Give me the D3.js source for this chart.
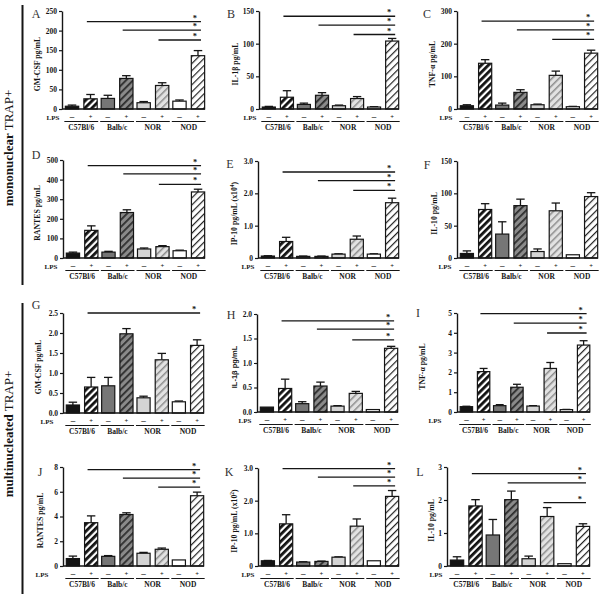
<!DOCTYPE html>
<html><head><meta charset="utf-8">
<script src="https://cdn.jsdelivr.net/npm/d3@7"></script>
<style>body{margin:0;background:#fff}</style>
</head><body><svg id="c" width="600" height="596"></svg>
<script>
// ---------- DATA ----------
const groups = ["C57Bl/6", "Balb/c", "NOR", "NOD"];
const lpsLevels = ["-", "+"];
// order of values: C57-, C57+, Balb-, Balb+, NOR-, NOR+, NOD-, NOD+
const gmcsfMono    = [7, 26, 27, 78, 16, 60, 20, 136];
const gmcsfMonoErr = [3, 11, 8, 7, 3, 7, 3, 13];
const il1bMono     = [3, 18, 7, 21, 5, 16, 3, 104];
const il1bMonoErr  = [1, 10, 2, 4, 1, 3, 0.5, 4];
const tnfMono      = [10, 140, 12, 51, 13, 103, 7, 171];
const tnfMonoErr   = [3, 11, 6, 8, 2, 13, 1, 9];
const rantesMono   = [25, 141, 30, 232, 46, 58, 37, 337];
const rantesMonoErr= [5, 23, 4, 14, 5, 5, 3, 14];
const ip10Mono     = [0.06, 0.51, 0.05, 0.05, 0.12, 0.58, 0.12, 1.71];
const ip10MonoErr  = [0.01, 0.13, 0.01, 0.01, 0.01, 0.10, 0.01, 0.14];
const il10Mono     = [7, 75, 37, 81, 10, 73, 5, 95];
const il10MonoErr  = [4, 9, 19, 10, 4, 12, 0, 6];

const gmcsfMulti    = [0.20, 0.65, 0.68, 1.98, 0.38, 1.33, 0.28, 1.69];
const gmcsfMultiErr = [0.07, 0.24, 0.21, 0.13, 0.04, 0.16, 0.02, 0.14];
const il1bMulti     = [0.10, 0.48, 0.17, 0.53, 0.12, 0.38, 0.05, 1.30];
const il1bMultiErr  = [0, 0.19, 0.04, 0.08, 0.01, 0.04, 0, 0.04];
const tnfMulti      = [0.27, 2.04, 0.32, 1.25, 0.30, 2.20, 0.12, 3.38];
const tnfMultiErr   = [0.02, 0.16, 0.05, 0.15, 0.02, 0.30, 0.01, 0.22];
const rantesMulti   = [0.60, 3.50, 0.78, 4.16, 1.03, 1.35, 0.49, 5.68];
const rantesMultiErr= [0.20, 0.55, 0.06, 0.14, 0.07, 0.10, 0, 0.29];
const ip10Multi     = [0.16, 1.29, 0.12, 0.14, 0.27, 1.22, 0.16, 2.13];
const ip10MultiErr  = [0.01, 0.28, 0.01, 0.01, 0.01, 0.22, 0, 0.18];
const il10Multi     = [0.18, 1.82, 0.94, 2.01, 0.22, 1.50, 0.07, 1.20];
const il10MultiErr  = [0.10, 0.19, 0.47, 0.26, 0.08, 0.27, 0, 0.08];

// y-axis ticks
const ticksA = [0, 50, 100, 150, 200, 250];
const ticksB = [0, 50, 100, 150];
const ticksC = [0, 100, 200, 300];
const ticksD = [0, 100, 200, 300, 400, 500];
const ticksE = [0, 1, 2, 3];
const ticksF = [0, 50, 100, 150];
const ticksG = [0, 0.5, 1, 1.5, 2, 2.5];
const ticksH = [0, 0.5, 1, 1.5, 2];
const ticksI = [0, 1, 2, 3, 4, 5];
const ticksJ = [0, 2, 4, 6, 8];
const ticksK = [0, 1, 2, 3];
const ticksL = [0, 1, 2, 3];

// significance bar heights (data units), starting from group 0,1,2
const sigA = [223, 201, 176];
const sigB = [142, 128.5, 114];
const sigC = [269, 242, 213];
const sigD = [471, 429, 376];
const sigE = [2.66, 2.39, 2.09];
const sigF = [];
const sigG = [2.5];
const sigH = [1.86, 1.69, 1.47];
const sigI = [4.97, 4.49, 3.99];
const sigJ = [7.78, 7.10, 6.38];
const sigK = [2.98, 2.72, 2.45];
const sigL = [2.80, 2.52, 1.92];

const rowLabels = [["mononuclear", " TRAP+"], ["multinucleated", " TRAP+"]];

// ---------- PANELS ----------
const intF = d3.format("d"), f1 = d3.format(".1f");
const f1z = v => v === 0 ? "0" : f1(v);
const panels = [
  {id:"A", label:"GM-CSF pg/mL", vals:gmcsfMono, errs:gmcsfMonoErr, ticks:ticksA, fmt:intF, sig:sigA},
  {id:"B", label:"IL-1β pg/mL", vals:il1bMono, errs:il1bMonoErr, ticks:ticksB, fmt:intF, sig:sigB},
  {id:"C", label:"TNF-α pg/mL", vals:tnfMono, errs:tnfMonoErr, ticks:ticksC, fmt:intF, sig:sigC},
  {id:"D", label:"RANTES pg/mL", vals:rantesMono, errs:rantesMonoErr, ticks:ticksD, fmt:intF, sig:sigD},
  {id:"E", label:"IP-10 pg/mL (x10", sup:"4", vals:ip10Mono, errs:ip10MonoErr, ticks:ticksE, fmt:f1z, sig:sigE},
  {id:"F", label:"IL-10 pg/mL", vals:il10Mono, errs:il10MonoErr, ticks:ticksF, fmt:intF, sig:sigF},
  {id:"G", label:"GM-CSF pg/mL", vals:gmcsfMulti, errs:gmcsfMultiErr, ticks:ticksG, fmt:f1, sig:sigG},
  {id:"H", label:"IL-1β pg/mL", sans:true, vals:il1bMulti, errs:il1bMultiErr, ticks:ticksH, fmt:f1, sig:sigH},
  {id:"I", label:"TNF-α pg/mL", vals:tnfMulti, errs:tnfMultiErr, ticks:ticksI, fmt:intF, sig:sigI},
  {id:"J", label:"RANTES pg/mL", vals:rantesMulti, errs:rantesMultiErr, ticks:ticksJ, fmt:intF, sig:sigJ},
  {id:"K", label:"IP-10 pg/mL (x10", sup:"2", vals:ip10Multi, errs:ip10MultiErr, ticks:ticksK, fmt:f1z, sig:sigK},
  {id:"L", label:"IL-10 pg/mL", vals:il10Multi, errs:il10MultiErr, ticks:ticksL, fmt:intF, sig:sigL}
];

// layout (positions) per panel
const layout = {
  A:{x0:62, x1:205, top:11,  bot:109, lx:36,  ly:14,  ldx:-22, lps:-9},
  B:{x0:259,x1:399, top:11,  bot:109, lx:231, ly:14,  ldx:-21, lps:-9},
  C:{x0:457,x1:598, top:11,  bot:109, lx:427, ly:14,  ldx:-22, lps:-11},
  D:{x0:63, x1:205, top:160, bot:258, lx:36,  ly:155, ldx:-23, lps:-12},
  E:{x0:258,x1:399, top:161, bot:258, lx:230, ly:164, ldx:-21, lps:-10},
  F:{x0:457,x1:598, top:161, bot:258, lx:427, ly:165, ldx:-20, lps:-12},
  G:{x0:63, x1:204, top:313, bot:413, lx:36,  ly:305, ldx:-22, lps:-16},
  H:{x0:257,x1:398, top:314, bot:412, lx:231, ly:315, ldx:-20, lps:-12},
  I:{x0:457,x1:590, top:313, bot:412, lx:418, ly:313, ldx:-32, lps:-22},
  J:{x0:63, x1:204, top:467, bot:566, lx:40,  ly:472, ldx:-20, lps:-21},
  K:{x0:258,x1:399, top:468, bot:566, lx:229, ly:472, ldx:-21, lps:-10},
  L:{x0:447,x1:590, top:467, bot:566, lx:420, ly:472, ldx:-13, lps:-11}
};

const svg = d3.select("#c");
const SERIF = "'Liberation Serif','DejaVu Serif',serif";
const SANS = "'Liberation Sans',Arial,sans-serif";
const ink = "#151515";

// patterns
const defs = svg.append("defs");
function hatch(id, bg, fg, w) {
  const p = defs.append("pattern").attr("id", id).attr("patternUnits", "userSpaceOnUse")
    .attr("width", 5).attr("height", 5).attr("patternTransform", "rotate(45)");
  p.append("rect").attr("width", 5).attr("height", 5).attr("fill", bg);
  p.append("rect").attr("x", 0).attr("width", w).attr("height", 5).attr("fill", fg);
}
hatch("hBlack", "#fff", "#111", 2.8);
hatch("hDark", "#8a8a8a", "#2e2e2e", 1.8);
hatch("hLight", "#e2e2e2", "#8c8c8c", 1.5);
hatch("hWhite", "#fff", "#222", 1.2);
const fills = ["#141414", "url(#hBlack)", "#767676", "url(#hDark)", "#d4d4d4", "url(#hLight)", "#ffffff", "url(#hWhite)"];

function drawPanel(p) {
  const L = layout[p.id];
  const g = svg.append("g");
  const y = d3.scaleLinear().domain([0, p.ticks[p.ticks.length - 1]]).range([L.bot, L.top]);
  const gx = d3.scaleBand().domain(groups).range([L.x0 + 1, L.x1 + 2]).paddingInner(0.06).paddingOuter(0.04);
  const ix = d3.scaleBand().domain(lpsLevels).range([0, gx.bandwidth()]).paddingInner(0.28).paddingOuter(0.05);
  const bw = ix.bandwidth();
  const rows = p.vals.map((v, i) => ({g: groups[Math.floor(i / 2)], l: lpsLevels[i % 2], v, e: p.errs[i], k: i}));
  const bx = d => gx(d.g) + ix(d.l);

  // error bars
  const eb = g.append("g").attr("stroke", ink).attr("stroke-width", 1.3);
  rows.forEach(d => {
    if (d.e <= 0) return;
    const cx = bx(d) + bw / 2;
    eb.append("line").attr("x1", cx).attr("x2", cx).attr("y1", y(d.v)).attr("y2", y(d.v + d.e));
    eb.append("line").attr("x1", cx - bw * 0.32).attr("x2", cx + bw * 0.32).attr("y1", y(d.v + d.e)).attr("y2", y(d.v + d.e));
  });
  // bars
  g.append("g").selectAll("rect").data(rows).join("rect")
    .attr("x", d => bx(d)).attr("width", bw)
    .attr("y", d => y(d.v)).attr("height", d => Math.max(0.5, L.bot - y(d.v)))
    .attr("fill", d => fills[d.k]).attr("stroke", ink).attr("stroke-width", 1.2);

  // y axis
  const ax = g.append("g").attr("transform", `translate(${L.x0},0)`)
    .call(d3.axisLeft(y).tickValues(p.ticks).tickFormat(p.fmt).tickSize(3).tickSizeOuter(0).tickPadding(2));
  ax.select(".domain").attr("stroke", ink).attr("stroke-width", 1.4);
  ax.selectAll(".tick line").attr("stroke", ink).attr("stroke-width", 1.2);
  ax.selectAll(".tick text").attr("font-family", SERIF).attr("font-weight", "bold").attr("font-size", 7.5).attr("fill", ink);
  // x axis line
  g.append("line").attr("x1", L.x0).attr("x2", L.x1).attr("y1", L.bot).attr("y2", L.bot)
    .attr("stroke", ink).attr("stroke-width", 1.6);

  // LPS - / + labels
  g.append("text").attr("x", L.x0 + L.lps).attr("y", L.bot + 11).attr("text-anchor", "middle")
    .attr("font-family", SERIF).attr("font-weight", "bold").attr("font-size", 7).attr("fill", ink).text("LPS");
  rows.forEach(d => {
    g.append("text").attr("x", bx(d) + bw / 2).attr("y", L.bot + 10).attr("text-anchor", "middle")
      .attr("font-family", SERIF).attr("font-weight", "bold").attr("font-size", d.l === "-" ? 9 : 6.5)
      .attr("fill", ink).text(d.l === "-" ? "–" : "+");
  });
  groups.forEach(gr => {
    const xa = gx(gr) + ix("-") - 1, xb = gx(gr) + ix("+") + bw + 1;
    g.append("line").attr("x1", xa).attr("x2", xb).attr("y1", L.bot + 12.5).attr("y2", L.bot + 12.5)
      .attr("stroke", ink).attr("stroke-width", 1);
    g.append("text").attr("x", (xa + xb) / 2).attr("y", L.bot + 21).attr("text-anchor", "middle")
      .attr("font-family", SERIF).attr("font-weight", "bold").attr("font-size", 7.5).attr("fill", ink).text(gr);
  });

  // y label
  const cy = (L.top + L.bot) / 2 + 4;
  const yl = g.append("text").attr("transform", `translate(${L.x0 + L.ldx},${cy}) rotate(-90)`)
    .attr("text-anchor", "middle").attr("font-family", p.sans ? SANS : SERIF).attr("font-weight", "bold")
    .attr("font-size", p.sans ? 7.5 : 7.8).attr("fill", ink);
  yl.append("tspan").text(p.label);
  if (p.sup) {
    yl.append("tspan").attr("dy", -3).attr("font-size", 5.5).text(p.sup);
    yl.append("tspan").attr("dy", 3).text(")");
  }
  // panel letter
  g.append("text").attr("x", L.lx).attr("y", L.ly + 4).attr("text-anchor", "middle")
    .attr("font-family", SERIF).attr("font-size", 12).attr("fill", "#333").text(p.id);

  // significance lines
  const nodPlus = rows[7];
  const endX = bx(nodPlus) + bw / 2 + 3;
  p.sig.forEach((lv, j) => {
    const startX = gx(groups[j]) + ix("+") + 3;
    g.append("line").attr("x1", startX).attr("x2", endX).attr("y1", y(lv)).attr("y2", y(lv))
      .attr("stroke", ink).attr("stroke-width", 1.3);
    g.append("text").attr("x", bx(nodPlus) + bw / 2 - 3).attr("y", y(lv) - 1).attr("text-anchor", "middle")
      .attr("font-family", SERIF).attr("font-weight", "bold").attr("font-size", 8.5).attr("fill", ink).text("*");
  });
}
panels.forEach(drawPanel);

// row labels + brackets
const rowPos = [{cy: 148, y0: 5, y1: 285}, {cy: 434, y0: 303, y1: 594}];
rowLabels.forEach((lab, i) => {
  const r = rowPos[i];
  const t = svg.append("text").attr("transform", `translate(13,${r.cy}) rotate(-90)`)
    .attr("text-anchor", "middle").attr("font-family", SERIF).attr("font-size", 13).attr("fill", ink);
  t.append("tspan").attr("font-weight", "bold").text(lab[0]);
  t.append("tspan").text(lab[1]);
  svg.append("line").attr("x1", 22.5).attr("x2", 22.5).attr("y1", r.y0).attr("y2", r.y1)
    .attr("stroke", ink).attr("stroke-width", 2);
});
</script></body></html>
